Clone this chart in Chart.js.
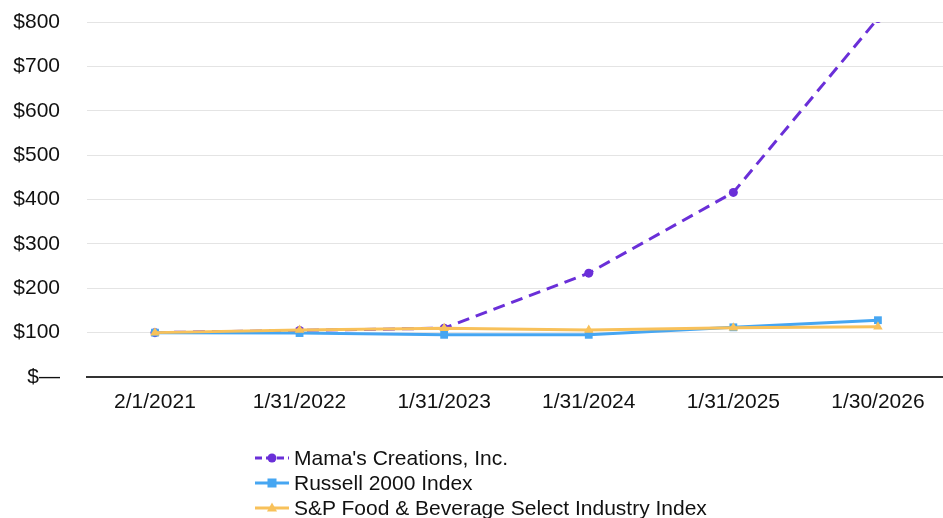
<!DOCTYPE html>
<html lang="en">
<head>
  <meta charset="UTF-8">
  <title>Cumulative Total Return</title>
  <script src="https://cdn.jsdelivr.net/npm/chart.js"></script>
  <style>
    body {
      margin: 0;
      background: #fff;
      font-family: "Liberation Sans", Arial, sans-serif;
    }
    .wrap {
      position: relative;
      width: 943px;
      height: 518px;
    }
    #legend {
      position: absolute;
      left: 255px;
      top: 445px;
      font-size: 21px;
      color: #111;
    }
    .item {
      display: flex;
      align-items: center;
      height: 25px;
    }
    .item svg {
      margin-right: 5px;
    }
  </style>
</head>
<body>
  <div class="wrap">
    <canvas id="chart" width="943" height="518"></canvas>
    <div id="legend"></div>
  </div>

  <script>
    // x positions are category indexes, labels below
    const dates = ['2/1/2021', '1/31/2022', '1/31/2023', '1/31/2024', '1/31/2025', '1/30/2026'];
    const mamas = [100, 105, 110, 234, 416, 808];
    const russell = [100, 99, 95, 95, 112, 128];
    const spFood = [100, 106, 110, 106, 111, 113];
    const yTicks = [0, 100, 200, 300, 400, 500, 600, 700, 800];

    const purple = '#6a2fd8';
    const blue = '#46a6f2';
    const yellow = '#f8c15a';
    const font = { size: 21, family: '"Liberation Sans", Arial, sans-serif' };

    function pts(arr) {
      return arr.map((v, i) => ({ x: i, y: v }));
    }

    const series = [
      { label: "Mama's Creations, Inc.", data: mamas, color: purple, style: 'circle', radius: 4.5, dash: [12, 7] },
      { label: 'Russell 2000 Index', data: russell, color: blue, style: 'rect', radius: 5.5, dash: [] },
      { label: 'S&P Food & Beverage Select Industry Index', data: spFood, color: yellow, style: 'triangle', radius: 5.5, dash: [] }
    ];

    new Chart(document.getElementById('chart'), {
      type: 'line',
      data: {
        datasets: series.map(s => ({
          label: s.label,
          data: pts(s.data),
          borderColor: s.color,
          backgroundColor: s.color,
          borderWidth: 3,
          borderDash: s.dash,
          pointStyle: s.style,
          pointRadius: s.radius,
          pointBorderWidth: 0,
          tension: 0
        })).reverse()
      },
      options: {
        responsive: false,
        animation: false,
        layout: { autoPadding: false, padding: { left: 13, top: 22, right: 0, bottom: 104 } },
        scales: {
          x: {
            type: 'linear',
            min: -0.47,
            max: 5.45,
            afterBuildTicks: axis => {
              axis.ticks = dates.map((d, i) => ({ value: i }));
            },
            afterFit: axis => {
              axis.height = 37;
              axis.paddingLeft = 0;
              axis.paddingRight = 0;
            },
            ticks: {
              padding: 13,
              color: '#111',
              font: font,
              callback: v => dates[v]
            },
            grid: { display: false, drawTicks: false },
            border: { display: true, color: '#333', width: 2 }
          },
          y: {
            min: 0,
            max: 800,
            afterBuildTicks: axis => {
              axis.ticks = yTicks.map(v => ({ value: v }));
            },
            afterFit: axis => {
              axis.width = 74;
              axis.paddingTop = 0;
              axis.paddingBottom = 0;
            },
            ticks: {
              padding: 27,
              color: '#111',
              font: font,
              callback: v => v === 0 ? '$\u2014' : '$' + v
            },
            grid: { color: '#e4e4e4', lineWidth: 1, drawTicks: false },
            border: { display: false }
          }
        },
        plugins: {
          legend: { display: false },
          tooltip: { enabled: false }
        }
      }
    });

    // legend rows with line + marker symbol
    const legend = document.getElementById('legend');
    series.forEach(s => {
      let marker;
      if (s.style === 'circle') marker = '<circle cx="17" cy="10" r="4.5" fill="' + s.color + '"/>';
      else if (s.style === 'rect') marker = '<rect x="12.5" y="5.5" width="9" height="9" fill="' + s.color + '"/>';
      else marker = '<polygon points="17,4.5 22,13.5 12,13.5" fill="' + s.color + '"/>';
      const dash = s.dash.length ? ' stroke-dasharray="7 4"' : '';
      const row = document.createElement('div');
      row.className = 'item';
      row.innerHTML = '<svg width="34" height="20"><line x1="0" y1="10" x2="34" y2="10" stroke="' + s.color +
        '" stroke-width="3"' + dash + '/>' + marker + '</svg><span></span>';
      row.querySelector('span').textContent = s.label;
      legend.appendChild(row);
    });
  </script>
</body>
</html>
